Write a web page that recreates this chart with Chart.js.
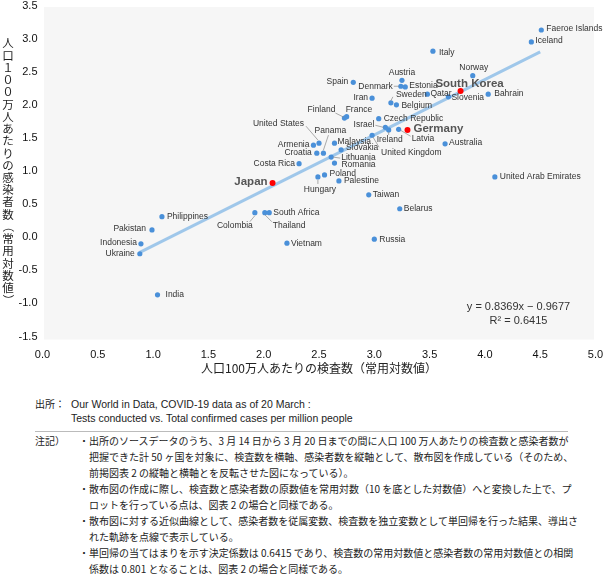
<!DOCTYPE html>
<html lang="ja">
<head>
<meta charset="utf-8">
<title>検査数と感染者数の散布図</title>
<script src="https://cdn.jsdelivr.net/npm/chart.js@4.4.1/dist/chart.umd.min.js"></script>
<style>
  body { margin: 0; background: #fff; width: 604px; height: 576px; position: relative; overflow: hidden;
         font-family: "Noto Sans CJK JP", "Liberation Sans", sans-serif; color: #222; }
  #wrap { position: absolute; left: 0; top: 0; width: 604px; height: 385px; }
  .lab { position: absolute; left: 35px; white-space: nowrap; }
  #src { position: absolute; left: 0; top: 397px; font-size: 10.5px; line-height: 14px; }
  #src .lab { font-size: 10px; }
  #src .body { position: absolute; left: 71px; top: 0; white-space: nowrap; font-family: "Liberation Sans", sans-serif; }
  #rule { position: absolute; left: 35px; top: 431px; width: 533px; height: 1px; background: #bbb; }
  #notes { position: absolute; left: 0; top: 433px; font-size: 10px; line-height: 16px; }
  #notes .body { position: absolute; left: 79px; top: 0; white-space: nowrap; }
  #notes p { margin: 0; padding-left: 10px; text-indent: -10px; }
</style>
</head>
<body>
<div id="wrap"><canvas id="chart" width="604" height="385"></canvas></div>

<div id="src">
  <span class="lab">出所：</span>
  <div class="body">Our World in Data, COVID-19 data as of 20 March :<br>Tests conducted vs. Total confirmed cases per million people</div>
</div>
<div id="rule"></div>
<div id="notes">
  <span class="lab">注記）</span>
  <div class="body">
    <p>・出所のソースデータのうち、3 月 14 日から 3 月 20 日までの間に人口 100 万人あたりの検査数と感染者数が<br>把握できた計 50 ヶ国を対象に、検査数を横軸、感染者数を縦軸として、散布図を作成している（そのため、<br>前掲図表 2 の縦軸と横軸とを反転させた図になっている）。</p>
    <p>・散布図の作成に際し、検査数と感染者数の原数値を常用対数（10 を底とした対数値）へと変換した上で、プ<br>ロットを行っている点は、図表 2 の場合と同様である。</p>
    <p>・散布図に対する近似曲線として、感染者数を従属変数、検査数を独立変数として単回帰を行った結果、導出さ<br>れた軌跡を点線で表示している。</p>
    <p>・単回帰の当てはまりを示す決定係数は 0.6415 であり、検査数の常用対数値と感染者数の常用対数値との相関<br>係数は 0.801 となることは、図表 2 の場合と同様である。</p>
  </div>
</div>

<script>
// Data (log10 of tests / confirmed cases per million people)
const countries = [
    'Faeroe Islands', 'Iceland', 'Italy', 'Norway', 'Austria', 'Spain', 'Denmark', 'Estonia',
    'Iran', 'Sweden', 'Belgium', 'Qatar', 'South Korea', 'Slovenia', 'Bahrain', 'Finland',
    'France', 'United States', 'Armenia', 'Panama', 'Croatia', 'Malaysia', 'Slovakia',
    'Czech Republic', 'Israel', 'Ireland', 'United Kingdom', 'Latvia', 'Germany', 'Australia',
    'Lithuania', 'Romania', 'Costa Rica', 'Poland', 'Hungary', 'Palestine', 'Japan', 'Taiwan',
    'United Arab Emirates', 'Belarus', 'Russia', 'Colombia', 'Thailand', 'South Africa',
    'Vietnam', 'Philippines', 'Pakistan', 'Indonesia', 'Ukraine', 'India'
];
const testsLog = [
    4.51, 4.42, 3.53, 3.89, 3.25, 2.81, 3.24, 3.28,
    2.98, 3.15, 3.20, 3.48, 3.78, 3.67, 4.03, 2.73,
    2.75, 2.50, 2.45, 2.54, 2.48, 2.64, 2.70,
    3.04, 3.10, 3.13, 2.98, 3.22, 3.30, 3.64,
    2.61, 2.64, 2.32, 2.55, 2.49, 2.68, 2.08, 2.95,
    4.09, 3.23, 3.00, 1.92, 2.01, 2.05,
    2.21, 1.08, 0.99, 0.89, 0.88, 1.04
];
const casesLog = [
    3.13, 2.95, 2.81, 2.44, 2.37, 2.34, 2.28, 2.27,
    2.10, 2.03, 2.00, 2.16, 2.21, 2.12, 2.16, 1.80,
    1.82, 1.42, 1.39, 1.27, 1.27, 1.42, 1.32,
    1.79, 1.66, 1.62, 1.54, 1.63, 1.62, 1.41,
    1.21, 1.12, 1.11, 0.94, 0.91, 0.85, 0.82, 0.64,
    0.91, 0.43, -0.03, 0.37, 0.37, 0.37,
    -0.09, 0.31, 0.11, -0.10, -0.25, -0.87
];
const highlighted = ['Japan', 'Germany', 'South Korea'];

// regression line end points
const trendX = [0.88, 4.50];
const trendY = [-0.23, 2.80];
const equationLines = ['y = 0.8369x − 0.9677', 'R² = 0.6415'];

const xTickLabels = ['0.0', '0.5', '1.0', '1.5', '2.0', '2.5', '3.0', '3.5', '4.0', '4.5', '5.0'];
const yTickLabels = ['-1.5', '-1.0', '-0.5', '0.0', '0.5', '1.0', '1.5', '2.0', '2.5', '3.0', '3.5'];
const xTitle = '人口100万人あたりの検査数（常用対数値）';
const yTitle = '人口１００万人あたりの感染者数（常用対数値）';

// label placement relative to the dot: [dx, dy, align, leader line (optional)]
const labelPlace = {
    'Faeroe Islands': [5, -1, 'left'],
    'Iceland': [4, -1, 'left'],
    'Italy': [6, 1, 'left'],
    'Norway': [1, -8, 'center'],
    'Austria': [0, -8, 'center'],
    'Spain': [-5, -1, 'right'],
    'Denmark': [-8, 0, 'right', [-7, 0, -2, 0]],
    'Estonia': [4, -1, 'left'],
    'Iran': [-4, -1, 'right'],
    'Sweden': [5, -8, 'left', [0, -2, 2, -6]],
    'Belgium': [5, 1, 'left'],
    'Qatar': [3, -1, 'left'],
    'South Korea': [9, -7, 'center'],
    'Slovenia': [3, 1, 'left'],
    'Bahrain': [6, -1, 'left'],
    'Finland': [-9, -8, 'right', [-9, -5, -1, -1]],
    'France': [-1, -7, 'left'],
    'United States': [-15, -20, 'right', [-13, -17, -1, -3]],
    'Armenia': [-4, -1, 'right'],
    'Panama': [7, -22, 'center', [5, -18, 0, -3]],
    'Croatia': [-5, 0, 'right'],
    'Malaysia': [3, -2, 'left'],
    'Slovakia': [5, -2, 'left'],
    'Czech Republic': [5, 0, 'left'],
    'Israel': [-11, -3, 'right', [-10, -2, -2, 0]],
    'Ireland': [1, 10, 'center', [0, 2, 0, 5]],
    'United Kingdom': [9, 17, 'left', [1, 2, 7, 12]],
    'Latvia': [13, 9, 'left', [2, 1, 12, 7]],
    'Germany': [6, -1, 'left'],
    'Australia': [4, -1, 'left'],
    'Lithuania': [10, 1, 'left', [2, 0, 9, 1]],
    'Romania': [7, 2, 'left'],
    'Costa Rica': [-4, 0, 'right'],
    'Poland': [5, -1, 'left'],
    'Hungary': [2, 13, 'center', [0, 3, 0, 7]],
    'Palestine': [5, 0, 'left'],
    'Japan': [-5, -1, 'right'],
    'Taiwan': [4, 0, 'left'],
    'United Arab Emirates': [5, 0, 'left'],
    'Belarus': [4, 0, 'left'],
    'Russia': [5, 0, 'left'],
    'Colombia': [-2, 13, 'right', [-5, 9, 0, 3]],
    'Thailand': [8, 13, 'left', [0, 2, 7, 9]],
    'South Africa': [4, 0, 'left'],
    'Vietnam': [4, 0, 'left'],
    'Philippines': [5, 0, 'left'],
    'Pakistan': [-6, -1, 'right'],
    'Indonesia': [-4, -1, 'right'],
    'Ukraine': [-5, 0, 'right'],
    'India': [8, 0, 'left']
};

const points = countries.map((c, i) => ({ x: testsLog[i], y: casesLog[i] }));
const trend = trendX.map((x, i) => ({ x: x, y: trendY[i] }));
const dotColors = countries.map(c => highlighted.includes(c) ? '#ff0000' : '#4a90d9');
const dotSizes = countries.map(c => highlighted.includes(c) ? 3 : 2.6);

// grey plot background
const plotBg = {
    id: 'plotBg',
    beforeDraw(chart) {
        const ca = chart.chartArea;
        const ctx = chart.ctx;
        ctx.save();
        ctx.fillStyle = '#f6f6f6';
        ctx.fillRect(ca.left + 1.5, ca.top + 1.5, ca.right - ca.left - 3, ca.bottom - ca.top + 1.5);
        ctx.restore();
    }
};

// country names, leader lines, equation and vertical y title
const annotations = {
    id: 'annotations',
    afterDatasetsDraw(chart) {
        const ctx = chart.ctx;
        const meta = chart.getDatasetMeta(0);
        ctx.save();
        meta.data.forEach((pt, i) => {
            const name = countries[i];
            const p = labelPlace[name] || [5, 0, 'left'];
            if (p[3]) {
                ctx.strokeStyle = '#888';
                ctx.lineWidth = 0.7;
                ctx.beginPath();
                ctx.moveTo(pt.x + p[3][0], pt.y + p[3][1]);
                ctx.lineTo(pt.x + p[3][2], pt.y + p[3][3]);
                ctx.stroke();
            }
            const big = highlighted.includes(name);
            ctx.font = big ? 'bold 11.5px "Liberation Sans"' : '8.5px "Liberation Sans"';
            ctx.fillStyle = big ? '#555' : '#333';
            ctx.textAlign = p[2];
            ctx.textBaseline = 'middle';
            ctx.fillText(name, pt.x + p[0], pt.y + p[1]);
        });

        const ca = chart.chartArea;
        ctx.font = '11px "Liberation Sans"';
        ctx.fillStyle = '#333';
        ctx.textAlign = 'center';
        ctx.fillText(equationLines[0], ca.right - 77, ca.bottom - 30);
        ctx.fillText(equationLines[1], ca.right - 77, ca.bottom - 16);
        ctx.restore();
    },
    afterDraw(chart) {
        const ctx = chart.ctx;
        ctx.save();
        ctx.font = '11.5px "Noto Sans CJK JP"';
        ctx.fillStyle = '#222';
        ctx.textAlign = 'center';
        ctx.textBaseline = 'middle';
        const chars = Array.from(yTitle);
        chars.forEach((ch, i) => {
            const y = 43 + i * 12.24;
            if (ch === '（' || ch === '）') {
                ctx.save();
                ctx.translate(8, y);
                ctx.rotate(Math.PI / 2);
                ctx.fillText(ch, 0, 0);
                ctx.restore();
            } else {
                ctx.fillText(ch, 8, y);
            }
        });
        ctx.restore();
    }
};

new Chart(document.getElementById('chart'), {
    data: {
        datasets: [
            {
                type: 'scatter',
                data: points,
                pointBackgroundColor: dotColors,
                pointRadius: dotSizes,
                pointBorderWidth: 0,
                order: 1
            },
            {
                type: 'line',
                data: trend,
                borderColor: '#9fc7ea',
                borderWidth: 3,
                pointRadius: 0,
                order: 2
            }
        ]
    },
    options: {
        responsive: false,
        animation: false,
        layout: { padding: { top: 5.5, right: 8.5, left: 0, bottom: 0 } },
        plugins: { legend: { display: false }, tooltip: { enabled: false } },
        scales: {
            x: {
                type: 'linear', min: 0, max: 5,
                grid: { display: false, drawTicks: false },
                border: { display: false },
                ticks: {
                    stepSize: 0.5, padding: 12, color: '#111',
                    font: { family: 'Liberation Sans', size: 11 },
                    callback: (v) => xTickLabels[Math.round(v * 2)]
                },
                title: {
                    display: true, text: xTitle, color: '#222',
                    font: { family: 'Noto Sans CJK JP', size: 12 },
                    padding: { top: 0, bottom: 9 }
                },
                afterFit(s) { s.height = 48.5; s.paddingLeft = 0; s.paddingRight = 0; }
            },
            y: {
                type: 'linear', min: -1.5, max: 3.5,
                grid: { display: false, drawTicks: false },
                border: { display: false },
                ticks: {
                    stepSize: 0.5, padding: 5, color: '#111',
                    font: { family: 'Liberation Sans', size: 11 },
                    callback: (v) => yTickLabels[Math.round((v + 1.5) * 2)]
                },
                afterFit(s) { s.width = 42.5; s.paddingTop = 0; s.paddingBottom = 0; }
            }
        }
    },
    plugins: [plotBg, annotations]
});
</script>
</body>
</html>
